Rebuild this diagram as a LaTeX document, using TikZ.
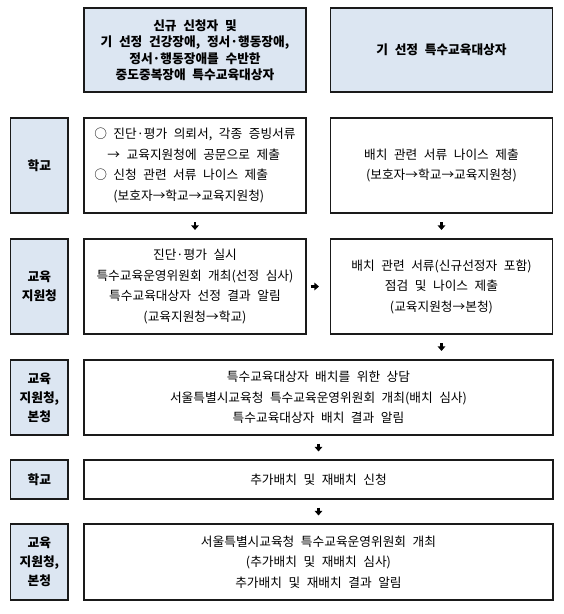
\documentclass[tikz,border=0pt]{standalone}
\usepackage{fontspec}
\setmainfont{Noto Sans CJK KR}[WordSpace=2.3]
\usetikzlibrary{arrows.meta}
\definecolor{boxfill}{HTML}{DCE6F2}
\definecolor{edge}{HTML}{1A1A1A}
\tikzset{
  box/.style={draw=edge, line width=1.1pt, inner sep=0pt, align=center,
    font=\fontsize{12.7}{20.5}\selectfont},
  headbox/.style={box, fill=boxfill, font=\fontsize{12.7}{16.5}\selectfont\bfseries},
  lbl/.style={box, fill=boxfill, minimum width=57.2pt, font=\fontsize{12.7}{19}\selectfont\bfseries},
  halfw/.style={minimum width=222pt},
  fullw/.style={minimum width=469pt},
  flow/.style={line width=2.7pt, -{Triangle[length=4.5pt,width=7.5pt]}}
}
\begin{document}
\begin{tikzpicture}[x=1pt,y=-1pt]
\useasboundingbox (0,0) rectangle (564,614);
\fill[white] (0,0) rectangle (564,614);
% header
\node[headbox, halfw, minimum height=84pt] (top1) at (195,50)
  {신규 신청자 및\\기 선정 건강장애, 정서·행동장애,\\정서·행동장애를 수반한\\중도중복장애 특수교육대상자};
\node[headbox, halfw, minimum height=84pt] (top2) at (441.5,50) {기 선정 특수교육대상자};
% row 1
\node[lbl, minimum height=95pt] (lab1) at (39.4,165.5) {학교};
\node[box, halfw, minimum height=95pt, align=left] (r1L) at (195,165.5)
  {\makebox[19pt][l]{○}진단·평가 의뢰서, 각종 증빙서류\\
   \hspace{13pt}→ 교육지원청에 공문으로 제출\\
   \makebox[19pt][l]{○}신청 관련 서류 나이스 제출\\
   \hspace{19pt}(보호자→학교→교육지원청)};
\node[box, halfw, minimum height=95pt] (r1R) at (441.5,165.5)
  {배치 관련 서류 나이스 제출\\(보호자→학교→교육지원청)};
% row 2
\node[lbl, minimum height=95pt] (lab2) at (39.4,286.5) {교육\\지원청};
\node[box, halfw, minimum height=95pt] (r2L) at (195,286.5)
  {진단·평가 실시\\특수교육운영위원회 개최(선정 심사)\\특수교육대상자 선정 결과 알림\\(교육지원청→학교)};
\node[box, halfw, minimum height=95pt] (r2R) at (441.5,286.5)
  {배치 관련 서류(신규선정자 포함)\\점검 및 나이스 제출\\(교육지원청→본청)};
% row 3
\node[lbl, minimum height=75pt] (lab3) at (39.4,397.5) {교육\\지원청,\\본청};
\node[box, fullw, minimum height=75pt] (r3) at (318.5,397.5)
  {특수교육대상자 배치를 위한 상담\\서울특별시교육청 특수교육운영위원회 개최(배치 심사)\\특수교육대상자 배치 결과 알림};
% row 4
\node[lbl, minimum height=39pt] (lab4) at (39.4,479.5) {학교};
\node[box, fullw, minimum height=39pt] (r4) at (318.5,479.5) {추가배치 및 재배치 신청};
% row 5
\node[lbl, minimum height=76pt] (lab5) at (39.4,562) {교육\\지원청,\\본청};
\node[box, fullw, minimum height=76pt] (r5) at (318.5,562)
  {서울특별시교육청 특수교육운영위원회 개최\\(추가배치 및 재배치 심사)\\추가배치 및 재배치 결과 알림};
% arrows
\draw[flow, shorten <=8.5pt, shorten >=8.5pt] (r1L.south) -- (r2L.north);
\draw[flow, shorten <=8.5pt, shorten >=8.5pt] (r1R.south) -- (r2R.north);
\draw[flow, shorten <=4pt, shorten >=11pt] (r2L.east) -- (r2R.west);
\draw[flow, shorten <=8.5pt, shorten >=8.5pt] (r2R.south) -- (r2R.south |- r3.north);
\draw[flow, shorten <=8pt, shorten >=8pt] (r3.south) -- (r4.north);
\draw[flow, shorten <=8pt, shorten >=8pt] (r4.south) -- (r5.north);
\end{tikzpicture}
\end{document}
